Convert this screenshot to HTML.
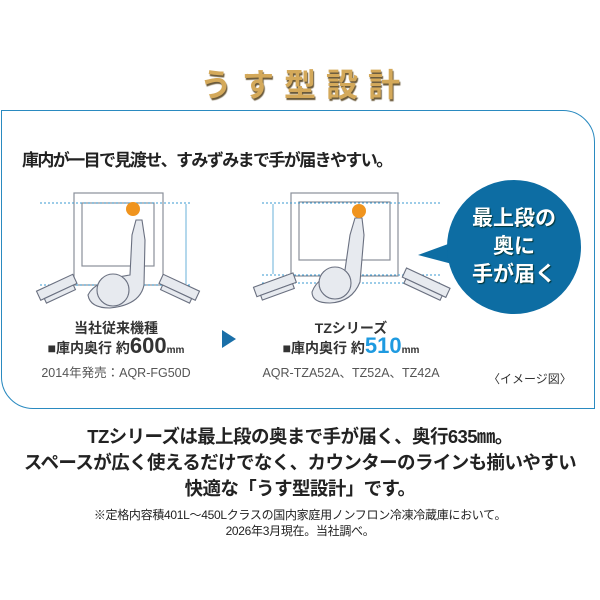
<!DOCTYPE html>
<html><head><meta charset="utf-8"><style>
body{margin:0;width:600px;height:600px;background:#fff;overflow:hidden;position:relative;font-family:"Liberation Sans","Noto Sans CJK JP",sans-serif;color:#222}
.a{position:absolute;white-space:nowrap}
.c{text-align:center}
</style></head><body>
<div class="a c" style="left:5px;width:600px;top:60px;font-size:32px;font-weight:bold;color:#d4a95a;text-shadow:1px 2px 1px #6b5a3a;letter-spacing:10px">うす型設計</div>
<div class="a" style="left:1px;top:110px;width:592px;height:297px;border:1.5px solid #2a8ac0;border-radius:0 32px 0 32px"></div>
<div class="a" style="left:22px;top:146px;font-size:17px;font-weight:bold;color:#222;letter-spacing:-1.6px">庫内が一目で見渡せ、すみずみまで手が届きやすい。</div>
<svg class="a" style="left:0;top:0" width="600" height="600">
<g fill="#fff" stroke="#8a8f9a" stroke-width="1.2">
<rect x="74" y="193" width="89" height="92"/><rect x="82" y="203" width="72" height="63"/>
<rect x="291" y="193" width="107" height="83"/><rect x="299" y="202" width="91" height="58"/>
</g>
<g stroke="#3a9ad0" stroke-width="1" stroke-dasharray="2,2" fill="none">
<line x1="40" y1="203" x2="192" y2="203"/><line x1="40" y1="285" x2="192" y2="285"/>
<line x1="262" y1="203" x2="440" y2="203"/><line x1="262" y1="275" x2="440" y2="275"/><line x1="262" y1="283" x2="440" y2="283"/>
</g>
<g stroke="#6ab0d8" stroke-width="1"><line x1="186" y1="204" x2="186" y2="284"/><line x1="273" y1="204" x2="273" y2="274"/></g>
<g fill="#e7eaef" stroke="#6a7080" stroke-width="1.1">
<path d="M88 295 Q95 280 130 275 L132 235 L136 220 L142 220 L145 240 L144 285 Q140 305 110 308 Q90 308 88 295 Z"/>
<circle cx="113" cy="290" r="16"/>
<path d="M312 292 Q318 275 345 270 L350 235 L355 218 L362 218 L364 235 L360 282 Q352 302 330 303 Q312 303 312 292 Z"/>
<circle cx="335" cy="283" r="16"/>
<g transform="rotate(-25 58 290)"><rect x="38" y="282" width="40" height="10"/><rect x="42" y="292" width="32" height="5"/></g>
<g transform="rotate(25 178 290)"><rect x="158" y="282" width="40" height="10"/><rect x="162" y="292" width="32" height="5"/></g>
<g transform="rotate(-20 275 288)"><rect x="255" y="280" width="42" height="10"/><rect x="259" y="290" width="34" height="5"/></g>
<g transform="rotate(25 424 285)"><rect x="401" y="277" width="48" height="10"/><rect x="405" y="287" width="40" height="5"/></g>
</g>
<circle cx="133" cy="209" r="7" fill="#f0941e"/><circle cx="359" cy="211" r="7" fill="#f0941e"/>
<polygon points="222,330 236,339 222,348" fill="#1a6fa8"/>
<polygon points="418,255 470,236 475,270" fill="#0d6da3"/>
<circle cx="514" cy="247" r="67" fill="#0d6da3"/>
</svg>
<div class="a c" style="left:447px;width:134px;top:205px;font-size:21px;font-weight:bold;color:#fff;line-height:28px;text-shadow:1px 1px 1px #033">最上段の<br>奥に<br>手が届く</div>
<div class="a c" style="left:36px;width:160px;top:318px;font-size:14px;font-weight:bold;color:#333">当社従来機種</div>
<div class="a c" style="left:26px;width:180px;top:333px;font-size:14px;font-weight:bold;color:#333">■庫内奥行 約<span style="font-size:22px">600</span><span style="font-size:10px">mm</span></div>
<div class="a c" style="left:26px;width:180px;top:362px;font-size:12.5px;color:#555">2014年発売：AQR-FG50D</div>
<div class="a c" style="left:270px;width:162px;top:318px;font-size:14px;font-weight:bold;color:#333">TZシリーズ</div>
<div class="a c" style="left:260px;width:182px;top:333px;font-size:14px;font-weight:bold;color:#333">■庫内奥行 約<span style="font-size:22px;color:#1e9ae0">510</span><span style="font-size:10px">mm</span></div>
<div class="a c" style="left:255px;width:192px;top:362px;font-size:12.5px;color:#555">AQR-TZA52A、TZ52A、TZ42A</div>
<div class="a" style="left:488px;top:370px;font-size:12px;color:#333">〈イメージ図〉</div>
<div class="a c" style="left:0;width:600px;top:424px;font-size:18.5px;font-weight:bold;line-height:26px;color:#222;letter-spacing:-0.6px">TZシリーズは最上段の奥まで手が届く、奥行635㎜。<br>スペースが広く使えるだけでなく、カウンターのラインも揃いやすい<br>快適な「うす型設計」です。</div>
<div class="a c" style="left:0;width:600px;top:507px;font-size:12px;line-height:16px;color:#222;letter-spacing:-0.3px">※定格内容積401L～450Lクラスの国内家庭用ノンフロン冷凍冷蔵庫において。<br>2026年3月現在。当社調べ。</div>
</body></html>
